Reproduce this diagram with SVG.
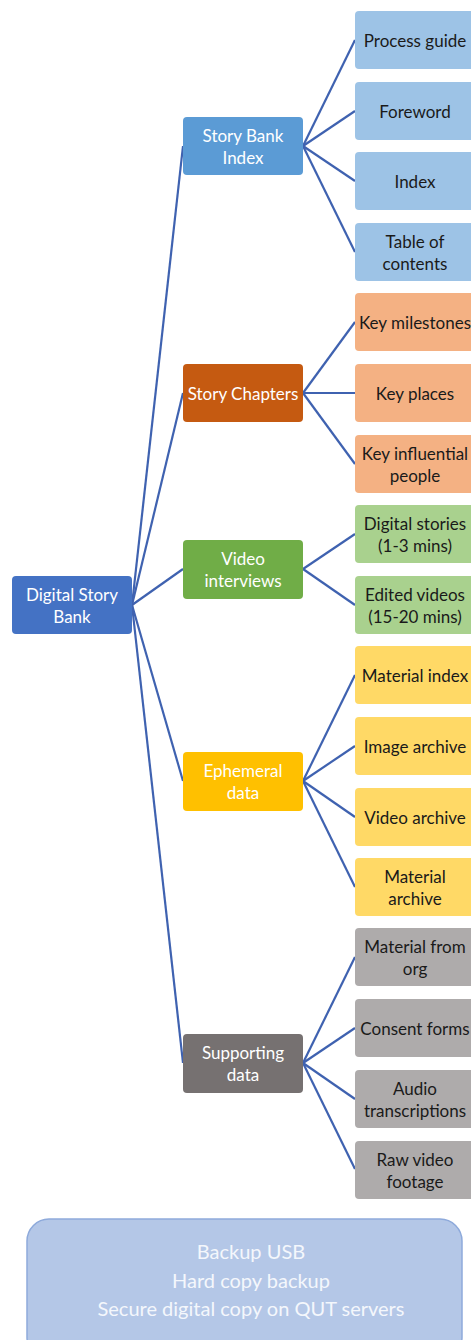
<svg xmlns="http://www.w3.org/2000/svg" width="471" height="1340" viewBox="0 0 471 1340">
  <style>
    text { font-family: "Lato", "Liberation Sans", sans-serif; font-size: 17px; text-anchor: middle; dominant-baseline: central; }
    .light { fill: #ffffff; }
    .dark { fill: #1a1a1a; }
    .box { rx: 4; ry: 4; }
    .link { stroke: #3f62b0; stroke-width: 2.2; fill: none; }
    .note { font-size: 20px; fill: #f4f7fc; }
  </style>

  <!-- connectors -->
  <g id="connectors">
    <!-- root to branches -->
    <path class="link" d="M132,605 L183,146"/>
    <path class="link" d="M132,605 L183,393"/>
    <path class="link" d="M132,605 L183,569"/>
    <path class="link" d="M132,605 L183,781"/>
    <path class="link" d="M132,605 L183,1063"/>
    <!-- Story Bank Index -->
    <path class="link" d="M303,146 L355,40"/>
    <path class="link" d="M303,146 L355,111"/>
    <path class="link" d="M303,146 L355,181"/>
    <path class="link" d="M303,146 L355,252"/>
    <!-- Story Chapters -->
    <path class="link" d="M303,393 L355,322"/>
    <path class="link" d="M303,393 L355,393"/>
    <path class="link" d="M303,393 L355,464"/>
    <!-- Video interviews -->
    <path class="link" d="M303,569 L355,534"/>
    <path class="link" d="M303,569 L355,605"/>
    <!-- Ephemeral data -->
    <path class="link" d="M303,781 L355,675"/>
    <path class="link" d="M303,781 L355,746"/>
    <path class="link" d="M303,781 L355,817"/>
    <path class="link" d="M303,781 L355,887"/>
    <!-- Supporting data -->
    <path class="link" d="M303,1063 L355,957"/>
    <path class="link" d="M303,1063 L355,1028"/>
    <path class="link" d="M303,1063 L355,1099"/>
    <path class="link" d="M303,1063 L355,1169"/>
  </g>

  <!-- root -->
  <g id="root">
    <rect class="box" x="12" y="576" width="120" height="58" fill="#4472c4"/>
    <text class="light" x="72" y="594">Digital Story</text>
    <text class="light" x="72" y="616">Bank</text>
  </g>

  <!-- branch: Story Bank Index -->
  <g id="story-bank-index">
    <rect class="box" x="183" y="117" width="120" height="58" fill="#5b9bd5"/>
    <text class="light" x="243" y="135">Story Bank</text>
    <text class="light" x="243" y="157">Index</text>
  </g>
  <g id="process-guide">
    <rect class="box" x="355" y="11" width="120" height="58" fill="#9dc3e6"/>
    <text class="dark" x="415" y="40">Process guide</text>
  </g>
  <g id="foreword">
    <rect class="box" x="355" y="82" width="120" height="58" fill="#9dc3e6"/>
    <text class="dark" x="415" y="111">Foreword</text>
  </g>
  <g id="index">
    <rect class="box" x="355" y="152" width="120" height="58" fill="#9dc3e6"/>
    <text class="dark" x="415" y="181">Index</text>
  </g>
  <g id="table-of-contents">
    <rect class="box" x="355" y="223" width="120" height="58" fill="#9dc3e6"/>
    <text class="dark" x="415" y="241">Table of</text>
    <text class="dark" x="415" y="263">contents</text>
  </g>

  <!-- branch: Story Chapters -->
  <g id="story-chapters">
    <rect class="box" x="183" y="364" width="120" height="58" fill="#c55a11"/>
    <text class="light" x="243" y="393">Story Chapters</text>
  </g>
  <g id="key-milestones">
    <rect class="box" x="355" y="293" width="120" height="58" fill="#f4b183"/>
    <text class="dark" x="415" y="322">Key milestones</text>
  </g>
  <g id="key-places">
    <rect class="box" x="355" y="364" width="120" height="58" fill="#f4b183"/>
    <text class="dark" x="415" y="393">Key places</text>
  </g>
  <g id="key-influential-people">
    <rect class="box" x="355" y="435" width="120" height="58" fill="#f4b183"/>
    <text class="dark" x="415" y="453">Key influential</text>
    <text class="dark" x="415" y="475">people</text>
  </g>

  <!-- branch: Video interviews -->
  <g id="video-interviews">
    <rect class="box" x="183" y="540" width="120" height="59" fill="#70ad47"/>
    <text class="light" x="243" y="558">Video</text>
    <text class="light" x="243" y="580">interviews</text>
  </g>
  <g id="digital-stories">
    <rect class="box" x="355" y="505" width="120" height="58" fill="#a9d18e"/>
    <text class="dark" x="415" y="523">Digital stories</text>
    <text class="dark" x="415" y="545">(1-3 mins)</text>
  </g>
  <g id="edited-videos">
    <rect class="box" x="355" y="576" width="120" height="58" fill="#a9d18e"/>
    <text class="dark" x="415" y="594">Edited videos</text>
    <text class="dark" x="415" y="616">(15-20 mins)</text>
  </g>

  <!-- branch: Ephemeral data -->
  <g id="ephemeral-data">
    <rect class="box" x="183" y="752" width="120" height="59" fill="#ffc000"/>
    <text class="light" x="243" y="770">Ephemeral</text>
    <text class="light" x="243" y="792">data</text>
  </g>
  <g id="material-index">
    <rect class="box" x="355" y="646" width="120" height="58" fill="#ffd966"/>
    <text class="dark" x="415" y="675">Material index</text>
  </g>
  <g id="image-archive">
    <rect class="box" x="355" y="717" width="120" height="58" fill="#ffd966"/>
    <text class="dark" x="415" y="746">Image archive</text>
  </g>
  <g id="video-archive">
    <rect class="box" x="355" y="788" width="120" height="58" fill="#ffd966"/>
    <text class="dark" x="415" y="817">Video archive</text>
  </g>
  <g id="material-archive">
    <rect class="box" x="355" y="858" width="120" height="58" fill="#ffd966"/>
    <text class="dark" x="415" y="876">Material</text>
    <text class="dark" x="415" y="898">archive</text>
  </g>

  <!-- branch: Supporting data -->
  <g id="supporting-data">
    <rect class="box" x="183" y="1034" width="120" height="59" fill="#767171"/>
    <text class="light" x="243" y="1052">Supporting</text>
    <text class="light" x="243" y="1074">data</text>
  </g>
  <g id="material-from-org">
    <rect class="box" x="355" y="928" width="120" height="58" fill="#aeabab"/>
    <text class="dark" x="415" y="946">Material from</text>
    <text class="dark" x="415" y="968">org</text>
  </g>
  <g id="consent-forms">
    <rect class="box" x="355" y="999" width="120" height="58" fill="#aeabab"/>
    <text class="dark" x="415" y="1028">Consent forms</text>
  </g>
  <g id="audio-transcriptions">
    <rect class="box" x="355" y="1070" width="120" height="58" fill="#aeabab"/>
    <text class="dark" x="415" y="1088">Audio</text>
    <text class="dark" x="415" y="1110">transcriptions</text>
  </g>
  <g id="raw-video-footage">
    <rect class="box" x="355" y="1141" width="120" height="58" fill="#aeabab"/>
    <text class="dark" x="415" y="1159">Raw video</text>
    <text class="dark" x="415" y="1181">footage</text>
  </g>

  <!-- backup note -->
  <g id="backup">
    <rect x="27" y="1219" width="435" height="140" rx="22" ry="22" fill="#b4c7e7" stroke="#8eaadb" stroke-width="1.5"/>
    <text class="note" x="251" y="1251">Backup USB</text>
    <text class="note" x="251" y="1280">Hard copy backup</text>
    <text class="note" x="251" y="1308">Secure digital copy on QUT servers</text>
  </g>
</svg>
